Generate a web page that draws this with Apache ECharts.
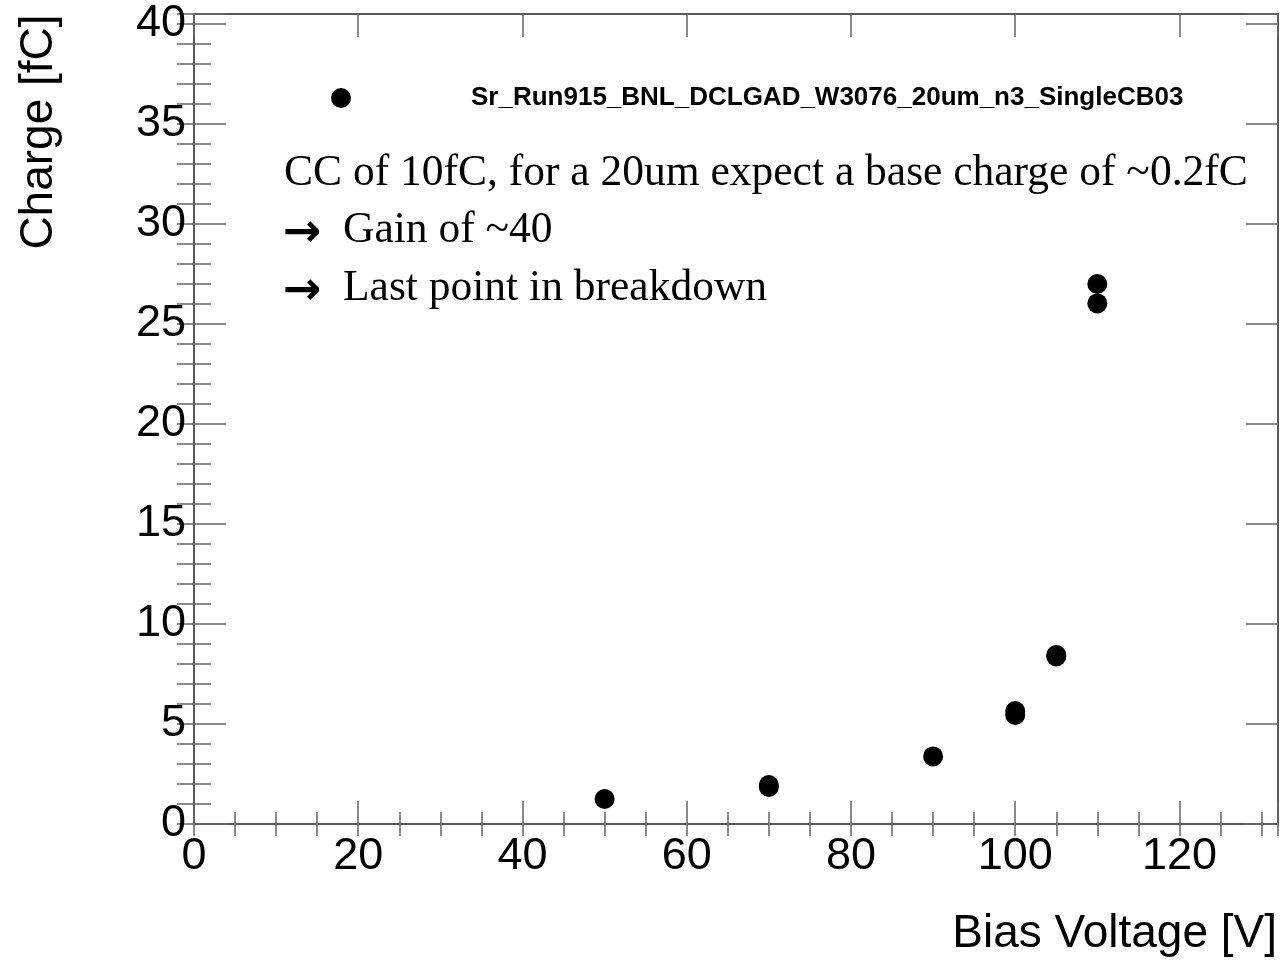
<!DOCTYPE html>
<html>
<head>
<meta charset="utf-8">
<script src="https://cdn.jsdelivr.net/npm/echarts@6/dist/echarts.min.js"></script>
<style>
  html, body { margin: 0; padding: 0; background: #fff; }
  #chart { width: 1287px; height: 964px; }
</style>
</head>
<body>
<div id="chart"></div>
<script>
// Measured collected charge versus sensor bias voltage
const seriesName = 'Sr_Run915_BNL_DCLGAD_W3076_20um_n3_SingleCB03';
const biasVoltage = [50, 70, 70, 90, 100, 100, 105, 105, 110, 110];
const charge = [1.25, 1.95, 1.85, 3.38, 5.65, 5.45, 8.45, 8.38, 27.0, 26.03];
const notes = [
  'CC of 10fC, for a 20um expect a base charge of ~0.2fC',
  'Gain of ~40',
  'Last point in breakdown'
];
const xTitle = 'Bias Voltage [V]';
const yTitle = 'Charge [fC]';

const X_MAX = 132, Y_MAX = 40.5;
const LINE = '#5a5a5a', TICK = '#666';
const SANS = '"Liberation Sans", Arial, Helvetica, sans-serif';
const SERIF = '"Liberation Serif", "Times New Roman", serif';

const points = biasVoltage.map((v, i) => [v, charge[i]]);

function axisBase(extra) {
  return Object.assign({
    type: 'value',
    min: 0,
    splitLine: { show: false },
    axisLine: { show: false },
    axisLabel: { show: false },
    axisPointer: { show: false }
  }, extra);
}

function ticks(len) {
  return { show: true, inside: true, length: len, lineStyle: { color: TICK, width: 1.5 } };
}

const labelStyle = { fontFamily: SANS, fontSize: 45, color: '#000' };

const chart = echarts.init(document.getElementById('chart'), null, { renderer: 'canvas' });
chart.setOption({
  animation: false,
  backgroundColor: '#fff',
  grid: { left: 194, right: 9, top: 14, bottom: 140, containLabel: false },
  legend: {
    data: [seriesName],
    left: 326, top: 80,
    icon: 'circle',
    itemWidth: 20, itemHeight: 20,
    selectedMode: false,
    textStyle: { fontFamily: SANS, fontWeight: 'bold', fontSize: 26, color: '#000', padding: [0, 0, 0, 115] }
  },
  xAxis: [
    axisBase({
      position: 'bottom', max: X_MAX, interval: 20,
      axisLine: { show: true, onZero: false, lineStyle: { color: LINE, width: 2 } },
      axisTick: ticks(23),
      axisLabel: Object.assign({ show: true, margin: 10, formatter: v => (v % 20 === 0 ? String(v) : '') }, labelStyle)
    }),
    axisBase({ position: 'bottom', max: X_MAX, interval: 5, axisTick: ticks(12) }),
    axisBase({
      position: 'top', max: X_MAX, interval: 20,
      axisLine: { show: true, onZero: false, lineStyle: { color: LINE, width: 2 } },
      axisTick: ticks(23)
    }),
    axisBase({ position: 'top', max: X_MAX, interval: 5, axisTick: ticks(12) })
  ],
  yAxis: [
    axisBase({
      position: 'left', max: Y_MAX, interval: 5,
      axisLine: { show: true, onZero: false, lineStyle: { color: LINE, width: 2 } },
      axisTick: ticks(32),
      axisLabel: Object.assign({ show: true, margin: 8, formatter: v => (v % 5 === 0 ? String(v) : '') }, labelStyle)
    }),
    axisBase({ position: 'left', max: Y_MAX, interval: 1, axisTick: ticks(17) }),
    axisBase({
      position: 'right', max: Y_MAX, interval: 5,
      axisLine: { show: true, onZero: false, lineStyle: { color: LINE, width: 2 } },
      axisTick: ticks(32)
    }),
    axisBase({ position: 'right', max: Y_MAX, interval: 1, axisTick: ticks(17) })
  ],
  series: [{
    name: seriesName,
    type: 'scatter',
    xAxisIndex: 0, yAxisIndex: 0,
    symbol: 'circle',
    symbolSize: 20,
    itemStyle: { color: '#000', opacity: 1 },
    data: points,
    z: 5
  }],
  graphic: [
    { type: 'text', left: 284, top: 152, style: { text: notes[0], font: '43.5px ' + SERIF, fill: '#000' } },
    { type: 'text', left: 283, top: 211, style: { text: '\u2192', font: 'bold 46px "DejaVu Sans", sans-serif', fill: '#000' } },
    { type: 'text', left: 343, top: 209, style: { text: notes[1], font: '43.5px ' + SERIF, fill: '#000' } },
    { type: 'text', left: 283, top: 269, style: { text: '\u2192', font: 'bold 46px "DejaVu Sans", sans-serif', fill: '#000' } },
    { type: 'text', left: 343, top: 267, style: { text: notes[2], font: '43.5px ' + SERIF, fill: '#000' } },
    {
      type: 'text', x: 39, y: 132, rotation: Math.PI / 2,
      style: { text: yTitle, font: '46px ' + SANS, fill: '#000', align: 'center', verticalAlign: 'middle' }
    },
    {
      type: 'text', x: 1277, y: 934,
      style: { text: xTitle, font: '46px ' + SANS, fill: '#000', align: 'right', verticalAlign: 'middle' }
    }
  ]
});
</script>
</body>
</html>
